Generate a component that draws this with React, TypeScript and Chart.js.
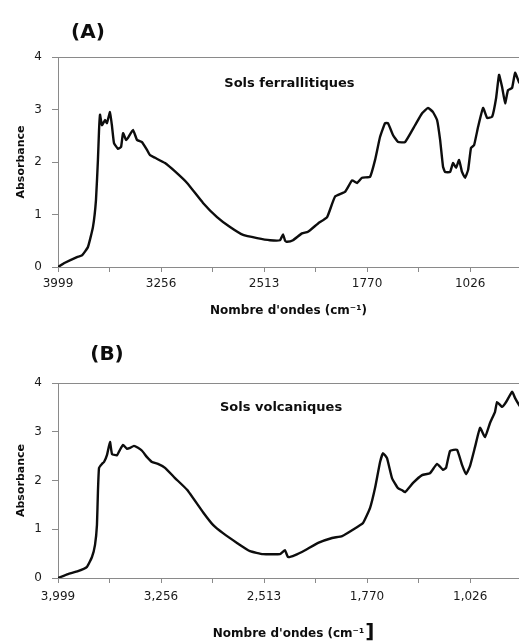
import React, { useEffect, useRef } from "react";
import { Chart, registerables } from "chart.js";

Chart.register(...registerables);

// ---------- data ----------
const tickValues = [3999, 3256, 2513, 1770, 1026];
const tickLabelsA = ["3999", "3256", "2513", "1770", "1026"];
const tickLabelsB = ["3,999", "3,256", "2,513", "1,770", "1,026"];
const yTickValues = [0, 1, 2, 3, 4];

const wnA = [3999, 3949, 3862, 3826, 3783, 3747, 3725, 3711, 3703, 3696, 3682, 3660, 3646, 3624, 3609, 3595, 3566, 3544, 3530, 3508, 3494, 3458, 3429, 3393, 3357, 3335, 3299, 3227, 3155, 3068, 2953, 2852, 2758, 2664, 2563, 2470, 2398, 2376, 2361, 2347, 2304, 2239, 2196, 2123, 2058, 2001, 1929, 1878, 1842, 1806, 1748, 1712, 1676, 1640, 1619, 1582, 1546, 1496, 1424, 1373, 1330, 1294, 1265, 1243, 1222, 1207, 1171, 1150, 1128, 1106, 1085, 1063, 1041, 1020, 998, 969, 933, 904, 868, 839, 818, 796, 774, 753, 724, 702, 674, 650];
const absA = [0.0, 0.08, 0.19, 0.22, 0.38, 0.76, 1.28, 2.04, 2.61, 2.9, 2.7, 2.8, 2.74, 2.95, 2.67, 2.36, 2.25, 2.29, 2.55, 2.42, 2.46, 2.61, 2.42, 2.38, 2.23, 2.13, 2.08, 1.98, 1.82, 1.6, 1.22, 0.95, 0.76, 0.61, 0.55, 0.51, 0.51, 0.62, 0.5, 0.48, 0.51, 0.64, 0.67, 0.83, 0.95, 1.34, 1.43, 1.65, 1.6, 1.7, 1.72, 2.04, 2.48, 2.74, 2.74, 2.51, 2.38, 2.38, 2.7, 2.93, 3.03, 2.95, 2.8, 2.42, 1.91, 1.81, 1.81, 1.98, 1.89, 2.04, 1.81, 1.7, 1.85, 2.27, 2.32, 2.67, 3.03, 2.84, 2.86, 3.22, 3.66, 3.43, 3.12, 3.37, 3.41, 3.7, 3.52, 3.45];

const wnB = [3999, 3927, 3855, 3790, 3754, 3732, 3718, 3711, 3703, 3682, 3667, 3646, 3624, 3609, 3573, 3552, 3530, 3501, 3479, 3451, 3422, 3393, 3357, 3321, 3278, 3227, 3155, 3068, 2953, 2881, 2809, 2708, 2614, 2520, 2398, 2362, 2340, 2289, 2217, 2123, 2022, 1950, 1878, 1799, 1748, 1712, 1676, 1655, 1626, 1590, 1546, 1517, 1496, 1438, 1373, 1316, 1265, 1222, 1200, 1171, 1121, 1085, 1056, 1027, 991, 955, 919, 883, 847, 832, 796, 767, 724, 702, 674, 650];
const absB = [0.0, 0.08, 0.14, 0.23, 0.43, 0.68, 1.09, 1.77, 2.26, 2.34, 2.38, 2.52, 2.79, 2.54, 2.52, 2.63, 2.73, 2.65, 2.67, 2.71, 2.67, 2.61, 2.48, 2.38, 2.34, 2.26, 2.05, 1.81, 1.35, 1.09, 0.92, 0.72, 0.55, 0.49, 0.49, 0.57, 0.43, 0.47, 0.57, 0.72, 0.82, 0.86, 0.98, 1.13, 1.44, 1.85, 2.38, 2.56, 2.46, 2.05, 1.84, 1.8, 1.76, 1.95, 2.11, 2.15, 2.34, 2.22, 2.26, 2.61, 2.63, 2.32, 2.13, 2.3, 2.69, 3.08, 2.89, 3.18, 3.41, 3.61, 3.51, 3.61, 3.82, 3.69, 3.55, 3.45];

// ---------- style ----------
const FONT = "'DejaVu Sans', sans-serif";
const AXIS = "#8a8a8a";
const INK = "#0d0d0d";
const W = 519;

type Panel = {
  label: string;
  note: string;
  wn: number[];
  abs: number[];
  tickLabels: string[];
  height: number;
  plotTop: number;
  plotBottom: number;
  tickPad: number;
  titlePad: number;
  labelX: number;
  labelY: number;
  noteWn: number;
  noteAbs: number;
  bracket: boolean;
};

const panels: Panel[] = [
  {
    label: "(A)", note: "Sols ferrallitiques", wn: wnA, abs: absA, tickLabels: tickLabelsA,
    height: 325, plotTop: 57, plotBottom: 267, tickPad: 5, titlePad: 7,
    labelX: 88, labelY: 33, noteWn: 2330, noteAbs: 3.5, bracket: false,
  },
  {
    label: "(B)", note: "Sols volcaniques", wn: wnB, abs: absB, tickLabels: tickLabelsB,
    height: 316, plotTop: 58, plotBottom: 253, tickPad: 7, titlePad: 0,
    labelX: 107, labelY: 30, noteWn: 2390, noteAbs: 3.5, bracket: true,
  },
];

const TITLE_FONT = { family: FONT, size: 12, weight: "bold" as const };

const textPlugin = {
  id: "panelText",
  afterDraw(chart: any, _args: any, opts: any) {
    const ctx = chart.ctx;
    ctx.save();
    ctx.fillStyle = INK;
    ctx.textAlign = "center";
    ctx.textBaseline = "middle";
    ctx.font = `bold 20px ${FONT}`;
    ctx.fillText(opts.label, opts.labelX, opts.labelY);
    ctx.font = `bold 13px ${FONT}`;
    const xs = chart.scales.x;
    const ys = chart.scales.y;
    ctx.fillText(opts.note, xs.getPixelForValue(opts.noteWn), ys.getPixelForValue(opts.noteAbs));
    if (opts.bracket) {
      ctx.font = `bold 12px ${FONT}`;
      const w = ctx.measureText(opts.titleText).width;
      const cx = (chart.chartArea.left + chart.chartArea.right) / 2;
      const ty = chart.height - (12 * 1.2) / 2 - opts.titlePad;
      ctx.font = `bold 20px ${FONT}`;
      ctx.textAlign = "left";
      ctx.fillText("]", cx + w / 2 + 1, ty - 1);
    }
    ctx.restore();
  },
};

function makeConfig(p: Panel): any {
  const ticks: any[] = [];
  tickValues.forEach((v, i) => {
    ticks.push({ value: v, lbl: p.tickLabels[i] });
    if (i < tickValues.length - 1) ticks.push({ value: (v + tickValues[i + 1]) / 2, lbl: "" });
  });
  const titleText = p.bracket ? "Nombre d'ondes (cm\u207B\u00B9" : "Nombre d'ondes (cm\u207B\u00B9)";
  const xMinAtEdge = 674;
  return {
    type: "line",
    data: {
      datasets: [
        {
          data: p.wn.map((x, i) => ({ x, y: p.abs[i] })),
          borderColor: INK,
          borderWidth: 2.4,
          pointRadius: 0,
          tension: 0.12,
          fill: false,
        },
      ],
    },
    options: {
      responsive: false,
      animation: false,
      devicePixelRatio: 1,
      layout: { padding: { top: p.plotTop, right: 0, bottom: 0, left: 0 } },
      plugins: {
        legend: { display: false },
        tooltip: { enabled: false },
        title: { display: false },
        panelText: {
          label: p.label, labelX: p.labelX, labelY: p.labelY,
          note: p.note, noteWn: p.noteWn, noteAbs: p.noteAbs,
          bracket: p.bracket, titleText, titlePad: p.titlePad,
        },
      },
      scales: {
        x: {
          type: "linear",
          reverse: true,
          min: xMinAtEdge,
          max: 3999,
          afterBuildTicks: (s: any) => { s.ticks = ticks.map((t) => ({ ...t })); },
          afterFit: (s: any) => { s.height = p.height - p.plotBottom; },
          ticks: {
            autoSkip: false,
            maxRotation: 0,
            padding: p.tickPad,
            color: "#1a1a1a",
            font: { family: FONT, size: 12 },
            callback: (_v: any, i: number, arr: any[]) => arr[i].lbl ?? "",
          },
          grid: { drawOnChartArea: false, color: AXIS, tickLength: 5, lineWidth: 1 },
          border: { display: true, color: AXIS, width: 1 },
          title: {
            display: true,
            text: titleText,
            color: INK,
            font: TITLE_FONT,
            padding: { top: 0, bottom: p.titlePad },
          },
        },
        y: {
          min: 0,
          max: 4,
          afterBuildTicks: (s: any) => { s.ticks = yTickValues.map((v) => ({ value: v })); },
          afterFit: (s: any) => { s.width = 58; },
          ticks: {
            padding: 10,
            color: "#1a1a1a",
            font: { family: FONT, size: 12 },
          },
          grid: {
            drawOnChartArea: true,
            color: (c: any) => (c.tick && c.tick.value === 4 ? AXIS : "rgba(0,0,0,0)"),
            tickColor: AXIS,
            tickLength: 6,
            lineWidth: 1,
          },
          border: { display: true, color: AXIS, width: 1 },
          title: {
            display: true,
            text: "Absorbance",
            color: INK,
            font: { family: FONT, size: 11, weight: "bold" },
            padding: { top: 15, bottom: 0 },
          },
        },
      },
    },
    plugins: [textPlugin],
  };
}

function PanelChart({ p, top }: { p: Panel; top: number }) {
  const ref = useRef<HTMLCanvasElement | null>(null);
  useEffect(() => {
    if (!ref.current) return;
    const chart = new Chart(ref.current, makeConfig(p));
    return () => chart.destroy();
  }, [p]);
  return (
    <canvas
      ref={ref}
      width={W}
      height={p.height}
      style={{ position: "absolute", left: 0, top, width: W, height: p.height, display: "block" }}
    />
  );
}

export default function App() {
  return (
    <div
      style={{
        position: "absolute",
        left: 0,
        top: 0,
        width: W,
        height: 641,
        overflow: "hidden",
        background: "#fff",
      }}
    >
      <PanelChart p={panels[0]} top={0} />
      <PanelChart p={panels[1]} top={panels[0].height} />
    </div>
  );
}
